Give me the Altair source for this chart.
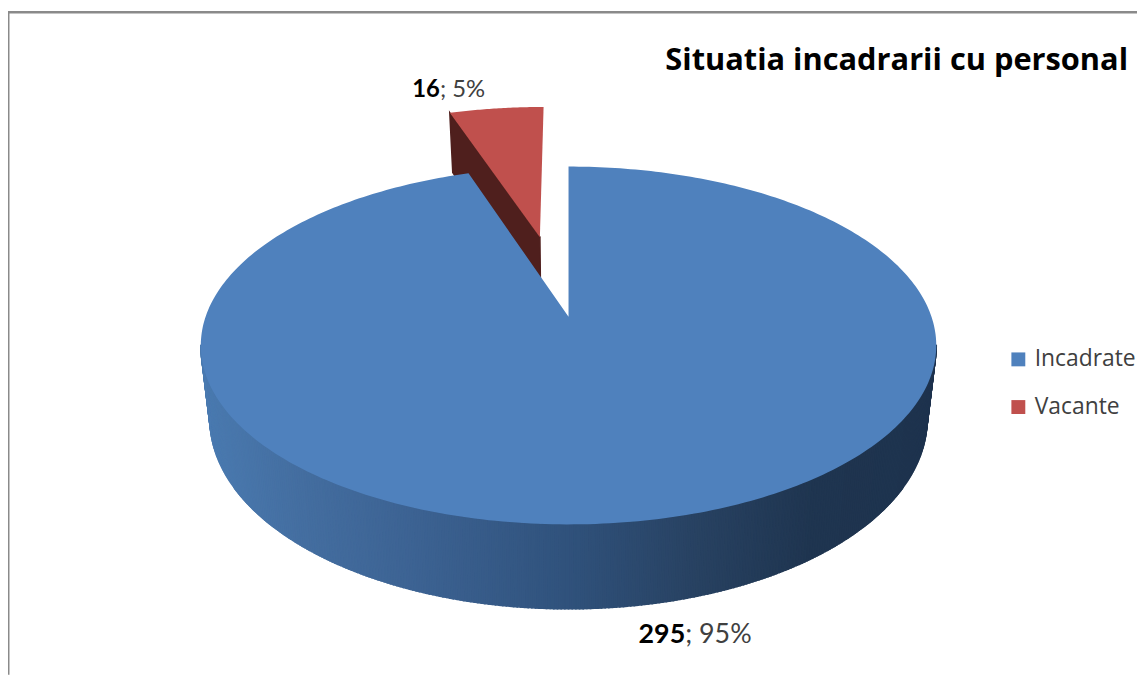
import math
import altair as alt
import numpy as np

# ---- chart values ----
categories = ["Incadrate", "Vacante"]
values = [295, 16]
percents = ["95%", "5%"]
colors = ["#4f81bd", "#c0504d"]
title_text = "Situatia incadrarii cu personal"
wall_stops_x = [200, 300, 420, 570, 700, 820, 940]
wall_stops_rgb = [(74, 122, 176), (68, 110, 160), (60, 98, 146), (48, 82, 124), (40, 66, 98), (31, 53, 80), (30, 51, 78)]
wall_dark_red = "#4f1f1d"

# ---- 3-D pie geometry, derived from the values (page-8 px) ----
CX, AY, A, B, K = 564.5, 308.5, 365.5, 175.5, 0.161
SX = 0.975
EXPLODE = 0.5
total = sum(values)
blue_deg = 360 * values[0] / total
red_deg = 360 * values[1] / total


def project(u, v):
    d = 1 + K * v
    return (CX + A * u / d, AY - B * v / d)


def lift(p):
    x, y = p
    return (CX + SX * (x - CX), y + 85 + (y - 518) * 0.06)


def rim(t_deg, du=0.0, dv=0.0):
    t = math.radians(t_deg)
    return project(math.sin(t) + du, math.cos(t) + dv)


def feat(ring, **props):
    pts = [list(p) for p in ring]
    pts.append(pts[0])
    return {"type": "Feature", "properties": props,
            "geometry": {"type": "Polygon", "coordinates": [pts]}}


def wall_color(x):
    c = [int(round(np.interp(x + 8, wall_stops_x, [s[i] for s in wall_stops_rgb]))) for i in range(3)]
    return "#%02x%02x%02x" % tuple(c)


# blue top: clockwise from 12 o'clock
blue_ts = np.linspace(0, blue_deg, 361)
blue_top = feat([project(0, 0)] + [rim(t) for t in blue_ts], name=categories[0])

# blue outer wall, front half only, as thin strips
strips = []
for t in np.arange(99, 261, 0.5):
    p0, p1 = rim(t), rim(t + 0.5)
    strips.append(feat([p0, p1, lift(p1), lift(p0)], c=wall_color((p0[0] + p1[0]) / 2)))

# red exploded slice
mid_t = math.radians(-red_deg * 0.53)
du, dv = EXPLODE * math.sin(mid_t), EXPLODE * math.cos(mid_t)
red_ts = np.linspace(-red_deg, 0, 41)
red_apex = project(du, dv)
red_top = feat([red_apex] + [rim(t, du, dv) for t in red_ts], name=categories[1])
red_outer = rim(-red_deg, du, dv)
red_wall = feat([red_outer, red_apex, lift(red_apex), lift(red_outer)], c=wall_dark_red)

color = alt.Color(
    "properties.name:N",
    scale=alt.Scale(domain=categories, range=colors),
    legend=alt.Legend(
        title=None, orient="none", legendX=1006, legendY=340,
        symbolType="square", symbolSize=196, symbolStrokeWidth=0,
        labelFont="Open Sans", labelFontSize=23, labelColor="#404040",
        labelOffset=5, rowPadding=24,
    ),
)


def wall_layer(features):
    return alt.Chart(alt.Data(values=features)).mark_geoshape(filled=True, strokeWidth=1.6).encode(
        fill=alt.Fill("properties.c:N", scale=None),
        stroke=alt.Stroke("properties.c:N", scale=None),
    ).project(type="identity", scale=1, translate=[0, 0])


def top_layer(feature):
    return alt.Chart(alt.Data(values=[feature])).mark_geoshape(filled=True, strokeWidth=0).encode(
        color=color
    ).project(type="identity", scale=1, translate=[0, 0])


def text_layer(txt, px, py, size, weight, align, col):
    return alt.Chart(alt.Data(values=[{"t": txt}])).mark_text(
        font="Lato", fontSize=size, fontWeight=weight, align=align, baseline="alphabetic", color=col
    ).encode(text="t:N", x=alt.value(px), y=alt.value(py))


frame_col = "#8a8a8a"
frame_left = alt.Chart(alt.Data(values=[{"a": 1}])).mark_rule(color=frame_col, strokeWidth=3).encode(
    x=alt.value(0), y=alt.value(2), y2=alt.value(669))
frame_top = alt.Chart(alt.Data(values=[{"a": 1}])).mark_rule(color=frame_col, strokeWidth=2.5).encode(
    x=alt.value(0), x2=alt.value(1137), y=alt.value(2))

chart = alt.layer(
    frame_left, frame_top,
    wall_layer([red_wall]),
    top_layer(red_top),
    wall_layer(strips),
    top_layer(blue_top),
    text_layer(str(values[1]), 435, 87, 24, "bold", "right", "#000000"),
    text_layer("; " + percents[1], 435, 87, 24, "normal", "left", "#404040"),
    text_layer(str(values[0]), 682, 637, 27, "bold", "right", "#000000"),
    text_layer("; " + percents[0], 682, 637, 27, "normal", "left", "#404040"),
).properties(
    width=1137, height=669, padding=0, autosize=alt.AutoSizeParams(type="none"),
    title=alt.TitleParams(
        title_text, orient="top", anchor="end", frame="group", font="Open Sans", fontSize=31,
        fontWeight="bold", color="#000000", offset=0, dx=-9, dy=91, baseline="alphabetic",
    ),
    background="white",
).configure_view(stroke=None)

chart.save("out.html", embed_options={"renderer": "svg", "actions": False})
